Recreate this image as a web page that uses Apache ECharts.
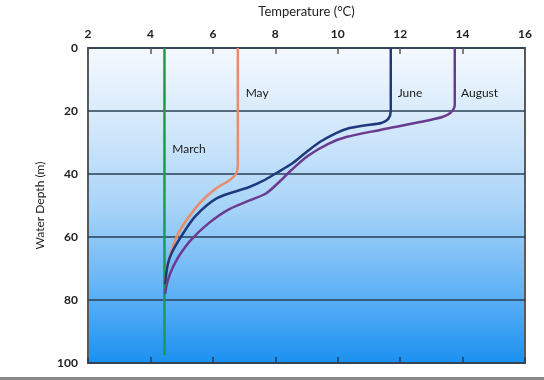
<!DOCTYPE html>
<html>
<head>
<meta charset="utf-8">
<script src="https://cdn.jsdelivr.net/npm/echarts@6/dist/echarts.min.js"></script>
<style>
html,body{margin:0;padding:0;background:#fff;}
#c{width:544px;height:380px;}
</style>
</head>
<body>
<div id="c"></div>
<script>
// Temperature ticks and depth ticks
const tempTicks = [2, 4, 6, 8, 10, 12, 14, 16];
const depthTicks = [0, 20, 40, 60, 80, 100];

// March
const marchTemp  = [4.45, 4.45];
const marchDepth = [0, 97.5];

// May
const mayTemp  = [6.8, 6.8, 6.74, 6.5, 6.1, 5.6, 5.18, 4.9, 4.7, 4.55, 4.47];
const mayDepth = [0, 37.0, 40.0, 42.2, 44.6, 49.0, 54.3, 58.7, 63.5, 69, 75];

// June
const juneTemp  = [11.7, 11.7, 11.62, 11.4, 10.9, 10.35, 9.95, 9.45, 9.0, 8.55, 8.05, 7.6, 7.15, 6.15, 5.45, 5.0, 4.68, 4.55, 4.47];
const juneDepth = [0, 20.0, 22.5, 23.8, 24.5, 25.5, 27.0, 29.7, 33.0, 36.6, 39.6, 42.2, 44.2, 47.6, 53.3, 59.6, 65.1, 69, 75];

// August
const augTemp  = [13.75, 13.75, 13.62, 13.35, 12.64, 11.36, 10.3, 9.7, 9.05, 8.5, 8.15, 7.7, 7.2, 6.5, 5.87, 5.3, 4.91, 4.7, 4.55, 4.47];
const augDepth = [0, 18.0, 20.5, 21.9, 23.5, 26.0, 28.2, 30.4, 34.2, 38.9, 42.3, 46.2, 48.3, 51.3, 55.6, 60.9, 66.1, 70, 74, 78];

// labels: [text, temp, depth]
const labelNames = ['May', 'March', 'June', 'August'];
const labelTemp  = [7.05, 4.7, 11.92, 13.95];
const labelDepth = [14.3, 32, 14.3, 14.3];

function pairs(xs, ys){ return xs.map((x,i)=>[x, ys[i]]); }

const chart = echarts.init(document.getElementById('c'), null, {renderer:'canvas'});
const font = 'Lato, "Open Sans", sans-serif';

const lineSeries = (name, xs, ys, color, z) => ({
  name, type:'line', data: pairs(xs, ys), showSymbol:false, symbol:'none',
  smooth:0.3, z: z,
  lineStyle:{color, width:2.5}, xAxisIndex:0, yAxisIndex:0, animation:false
});

chart.setOption({
  animation:false,
  backgroundColor:'#ffffff',
  grid:{
    left:88, right:19, top:48, bottom:17, show:true,
    borderColor:'#5a5a5a', borderWidth:2,
    backgroundColor: new echarts.graphic.LinearGradient(0,0,0,1,[
      {offset:0, color:'#f5f9fe'},
      {offset:0.25, color:'#d3e8fb'},
      {offset:0.5, color:'#a9d4f8'},
      {offset:0.75, color:'#66b5f6'},
      {offset:1, color:'#1a90f0'}
    ])
  },
  xAxis:[{
    type:'value', position:'top', min:tempTicks[0], max:tempTicks[tempTicks.length-1], interval:2,
    name:'Temperature (°C)', nameLocation:'middle', nameGap:30,
    nameTextStyle:{fontFamily:font, fontSize:13, color:'#222'},
    axisLine:{show:false},
    axisTick:{show:true, inside:true, length:6, lineStyle:{color:'#555', width:1.5}},
    axisLabel:{fontFamily:font, fontSize:12, fontWeight:'bold', color:'#222', margin:8},
    splitLine:{show:false}
  },{
    type:'value', position:'bottom', min:tempTicks[0], max:tempTicks[tempTicks.length-1], interval:2,
    axisLine:{show:false},
    axisTick:{show:true, inside:true, length:6, lineStyle:{color:'#2a3d55', width:1.5}},
    axisLabel:{show:false}, splitLine:{show:false}
  }],
  yAxis:[{
    type:'value', inverse:true, min:depthTicks[0], max:depthTicks[depthTicks.length-1], interval:20,
    name:'Water Depth (m)', nameLocation:'middle', nameGap:36, nameRotate:90,
    nameTextStyle:{fontFamily:font, fontSize:12, color:'#222'},
    axisLine:{show:false}, axisTick:{show:false},
    axisLabel:{fontFamily:font, fontSize:12, fontWeight:'bold', color:'#222', margin:10},
    splitLine:{show:true, lineStyle:{color:'#2b3e56', width:1.6}}
  }],
  series:[
    lineSeries('March', marchTemp, marchDepth, '#1f9a4c', 5),
    lineSeries('August', augTemp, augDepth, '#6a3b8e', 6),
    lineSeries('May', mayTemp, mayDepth, '#e98c6c', 7),
    lineSeries('June', juneTemp, juneDepth, '#1f3a7c', 8)
  ]
});

const texts = labelNames.map((t,i)=>{
  const p = chart.convertToPixel({xAxisIndex:0, yAxisIndex:0}, [labelTemp[i], labelDepth[i]]);
  return {type:'text', x:p[0], y:p[1], style:{text:t, fill:'#1a1a1a', font:'12px ' + font, verticalAlign:'middle'}, z:20};
});
texts.push({type:'rect', shape:{x:0, y:377, width:544, height:3}, style:{fill:'#8a8a8a'}, z:20});
chart.setOption({graphic:texts});
</script>
</body>
</html>
